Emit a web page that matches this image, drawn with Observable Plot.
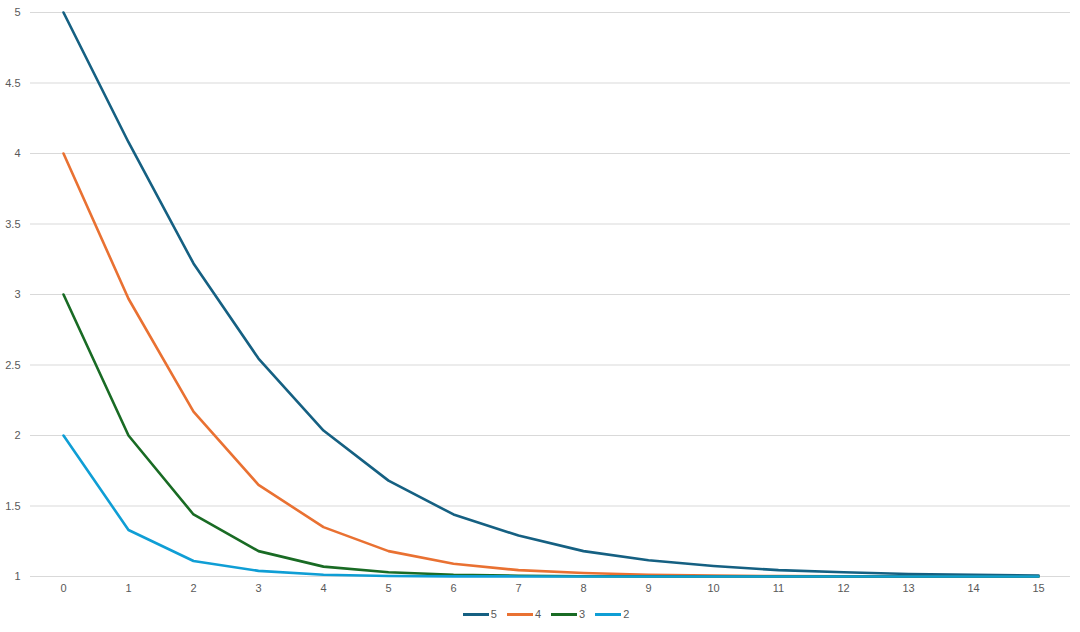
<!DOCTYPE html>
<html>
<head>
<meta charset="utf-8">
<script src="https://cdn.jsdelivr.net/npm/d3@7"></script>
<script src="https://cdn.jsdelivr.net/npm/@observablehq/plot@0.6"></script>
<style>
  body { margin: 0; background: #fff; font-family: "Liberation Sans", Arial, sans-serif; }
  #chart svg { display: block; }
  #legend { display: flex; justify-content: center; gap: 10px; font-size: 11px; color: #595959; margin-top: 8px; padding-left: 12px; }
  .item { display: flex; align-items: center; gap: 2px; }
  .sw { width: 26px; height: 3px; display: inline-block; }
</style>
</head>
<body>
<div id="chart"></div>
<div id="legend"></div>
<script>
const categories = [0,1,2,3,4,5,6,7,8,9,10,11,12,13,14,15];
const seriesNames = ["5","4","3","2"];
const colors = ["#156082","#E97132","#196B24","#0F9ED5"];
const s5 = [5, 4.08, 3.22, 2.546, 2.035, 1.68, 1.44, 1.29, 1.18, 1.115, 1.075, 1.045, 1.03, 1.018, 1.012, 1.007];
const s4 = [4, 2.97, 2.17, 1.65, 1.35, 1.18, 1.09, 1.045, 1.025, 1.012, 1.006, 1.003, 1.002, 1.001, 1.0005, 1.0002];
const s3 = [3, 2.0, 1.44, 1.18, 1.07, 1.03, 1.012, 1.005, 1.002, 1.001, 1.0004, 1.0002, 1.0001, 1, 1, 1];
const s2 = [2, 1.33, 1.11, 1.04, 1.012, 1.004, 1.001, 1.0005, 1.0002, 1.0001, 1, 1, 1, 1, 1, 1];
const yTicks = [1, 1.5, 2, 2.5, 3, 3.5, 4, 4.5, 5];

const allSeries = [s5, s4, s3, s2];
const data = [];
allSeries.forEach((vals, i) => vals.forEach((v, j) => data.push({x: String(categories[j]), y: v, s: seriesNames[i]})));

const chart = Plot.plot({
  width: 1080,
  height: 600,
  marginTop: 12,
  marginBottom: 24,
  marginLeft: 30,
  marginRight: 10,
  style: {fontFamily: '"Liberation Sans", Arial, sans-serif', fontSize: "11px", color: "#595959"},
  x: {type: "point", domain: categories.map(String), padding: 0.5, label: null, tickSize: 0, tickPadding: 8},
  y: {domain: [1, 5], ticks: yTicks, label: null, tickSize: 0, tickPadding: 10, tickFormat: d => String(d)},
  color: {domain: seriesNames, range: colors},
  marks: [
    Plot.gridY(yTicks, {stroke: "#d9d9d9", strokeOpacity: 1, strokeWidth: 1}),
    Plot.axisX({tickSize: 0, tickPadding: 8, fill: "#595959", fontSize: 11}),
    Plot.axisY(yTicks, {tickSize: 0, tickPadding: 10, fill: "#595959", fontSize: 11, tickFormat: d => String(d)}),
    Plot.line(data, {x: "x", y: "y", z: "s", stroke: "s", strokeWidth: 2.6, strokeLinejoin: "round", strokeLinecap: "round"})
  ]
});
document.getElementById("chart").appendChild(chart);

const legend = document.getElementById("legend");
seriesNames.forEach((n, i) => {
  const it = document.createElement("div");
  it.className = "item";
  it.innerHTML = `<span class="sw" style="background:${colors[i]}"></span><span>${n}</span>`;
  legend.appendChild(it);
});
</script>
</body>
</html>
